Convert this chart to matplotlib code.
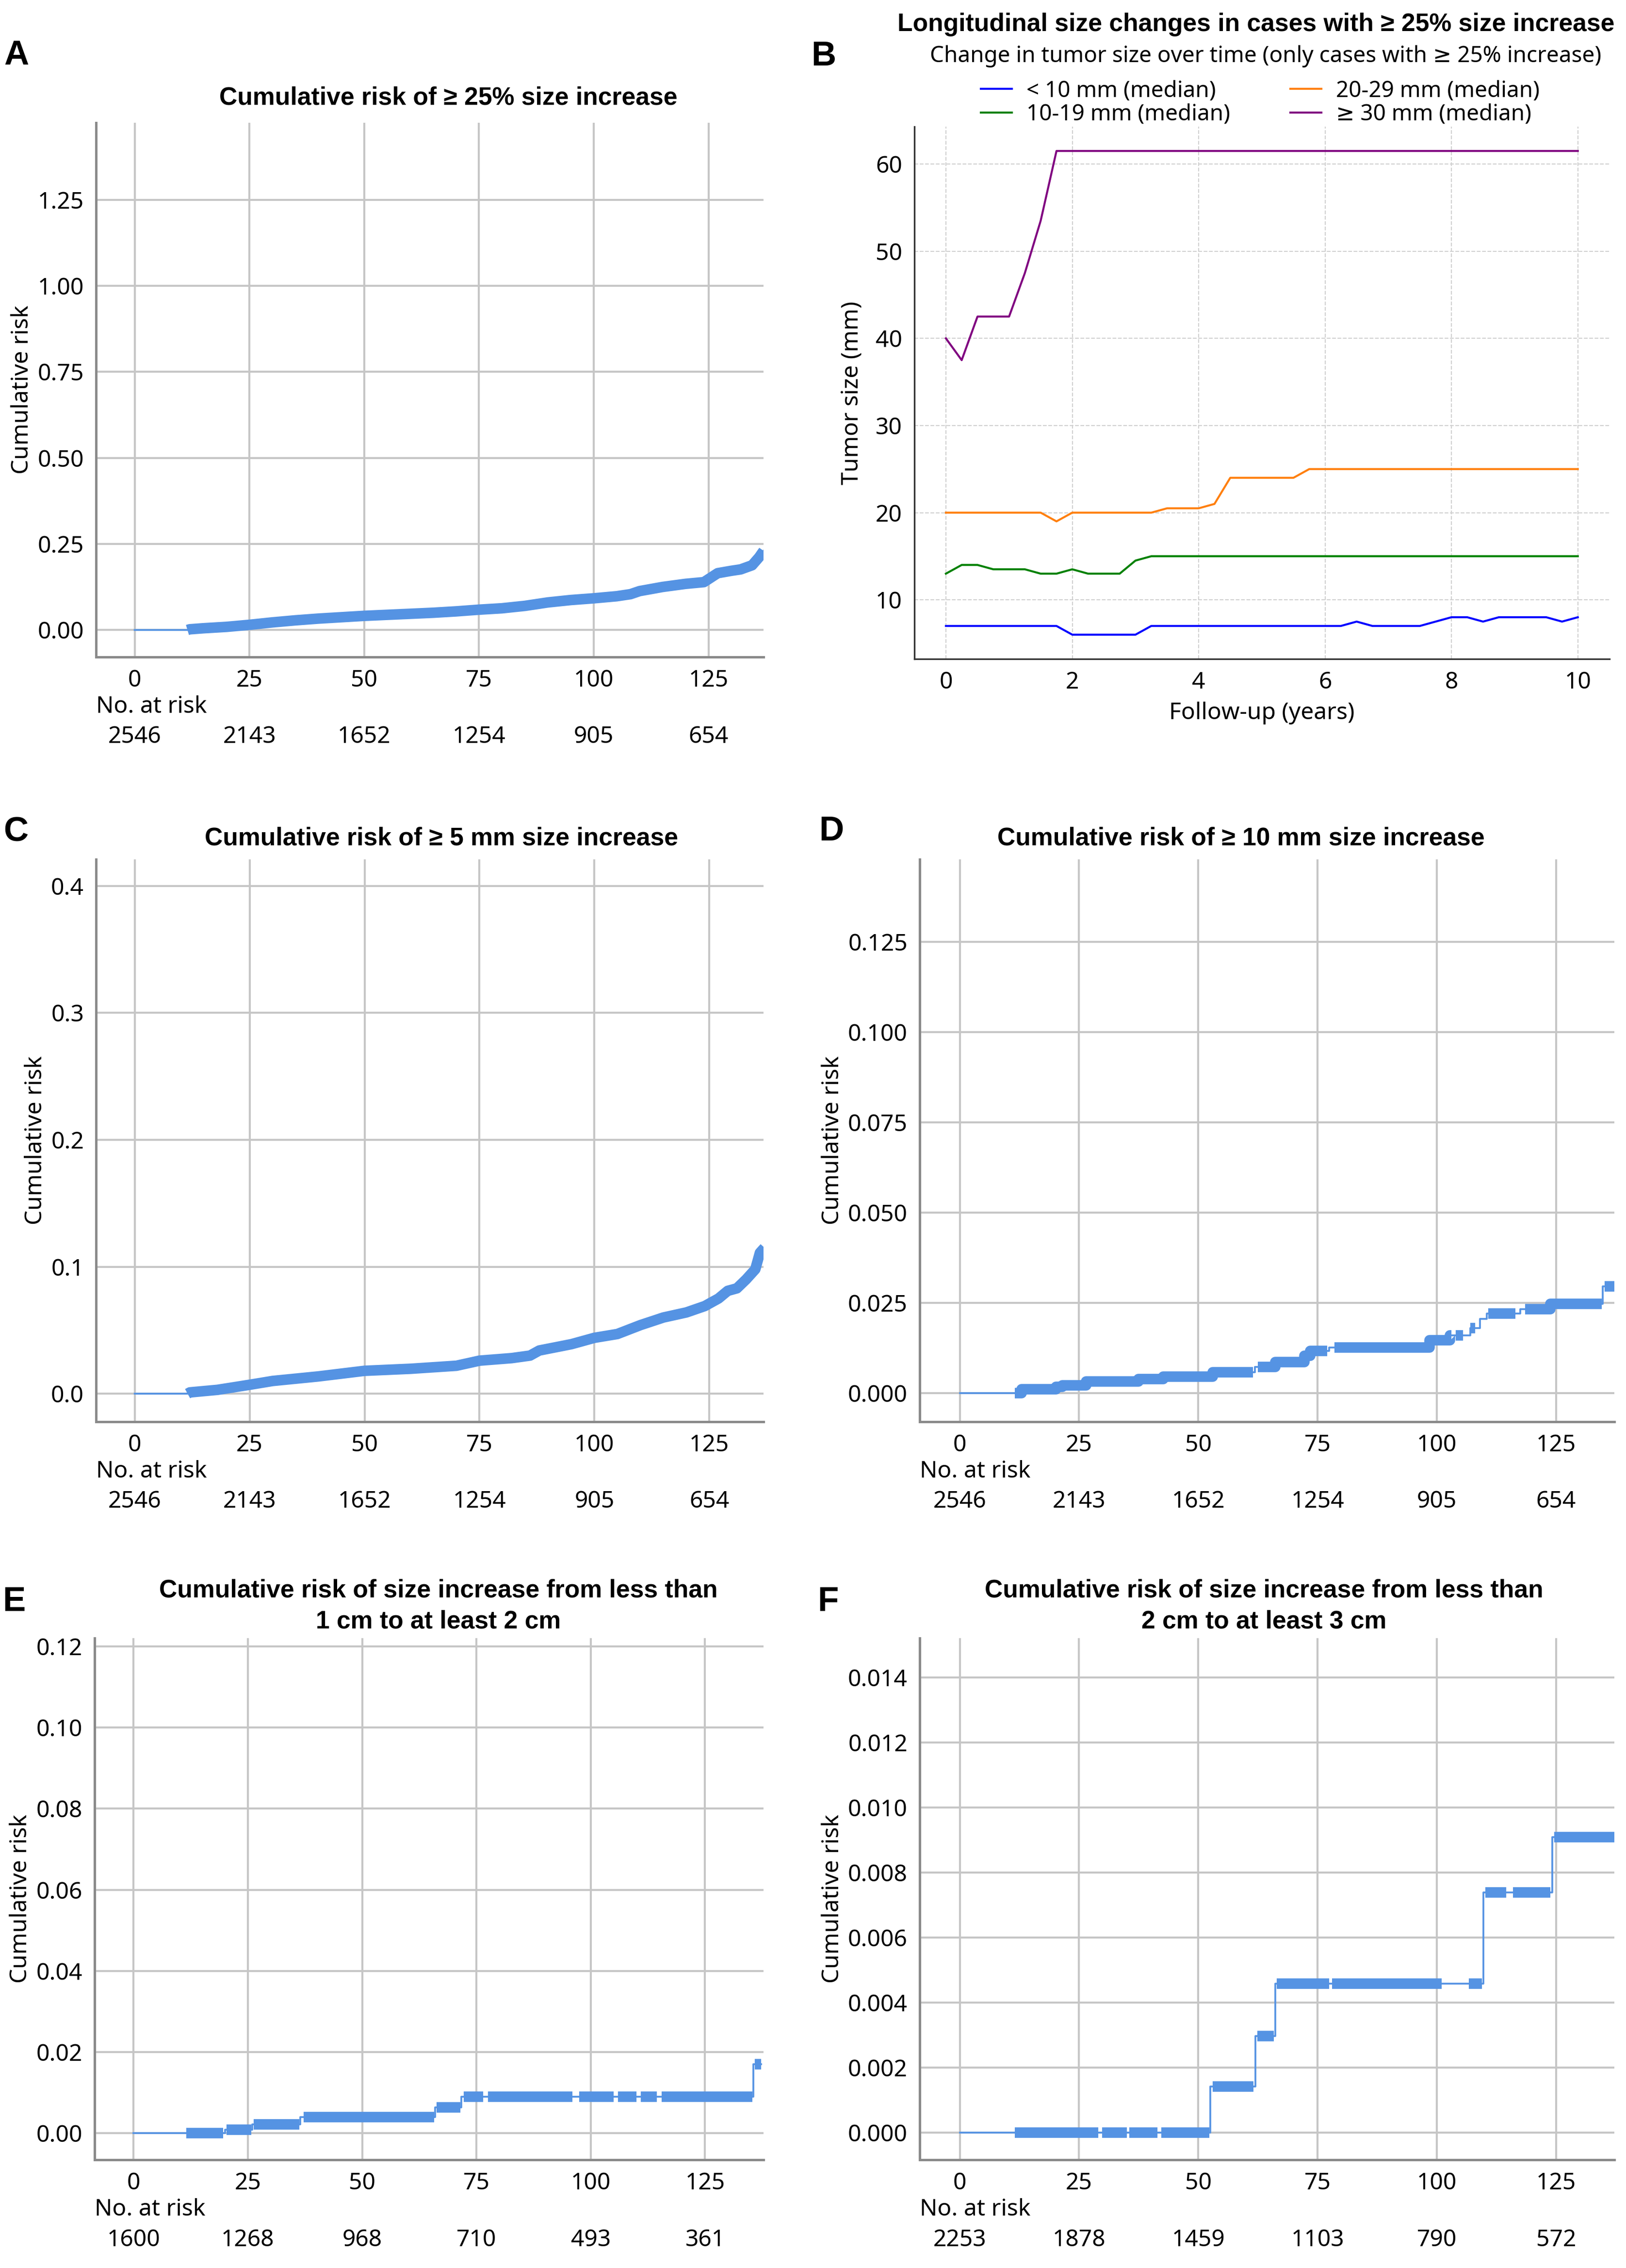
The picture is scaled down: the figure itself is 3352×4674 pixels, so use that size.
import numpy as np
import matplotlib
matplotlib.use("Agg")
import matplotlib.pyplot as plt

plt.rcParams['font.family'] = ['Noto Sans', 'DejaVu Sans']
BOLD_FAMILY = ['Liberation Sans', 'DejaVu Sans']

# ---- data ----
risk_times = [0, 25, 50, 75, 100, 125]

# A: >= 25 % size increase
a_t = [0, 11.5, 12, 15, 20, 25, 30, 35, 40, 45, 50, 55, 60, 65, 70, 75, 80, 85, 90, 95,
       100, 105, 108, 110, 115, 120, 124, 125.5, 127, 130, 132, 134.5, 136, 137]
a_r = [0, 0, 0.002, 0.005, 0.009, 0.015, 0.022, 0.028, 0.033, 0.037, 0.041, 0.044, 0.047,
       0.050, 0.054, 0.059, 0.063, 0.070, 0.080, 0.087, 0.092, 0.098, 0.104, 0.113, 0.125,
       0.134, 0.139, 0.152, 0.165, 0.172, 0.176, 0.188, 0.211, 0.230]
a_censor = [(11.5, 137)]
a_atrisk = [2546, 2143, 1652, 1254, 905, 654]

# C: >= 5 mm size increase
c_t = [0, 11.5, 12, 18, 25, 30, 40, 50, 60, 70, 75, 82, 86, 88, 95, 100, 105, 110, 115,
       120, 124, 127, 129, 131, 133, 135, 136, 137]
c_r = [0, 0, 0.001, 0.003, 0.007, 0.010, 0.0136, 0.018, 0.0196, 0.022, 0.026, 0.028, 0.030,
       0.034, 0.039, 0.044, 0.047, 0.054, 0.060, 0.064, 0.069, 0.075, 0.081, 0.083, 0.090,
       0.098, 0.111, 0.115]
c_censor = [(11.5, 137)]
c_atrisk = [2546, 2143, 1652, 1254, 905, 654]

# D: >= 10 mm size increase (step curve)
d_t = [0, 11.5, 13, 20.2, 21.5, 26.5, 37.5, 42.7, 53, 61.9, 66.1, 72.2, 73.5, 77.4, 98.5,
       102.7, 107, 109, 110.5, 117.5, 123.8, 134.8, 137.2]
d_r = [0, 0, 0.001, 0.0017, 0.0022, 0.0032, 0.0039, 0.0046, 0.0058, 0.0073, 0.0086, 0.0103,
       0.0117, 0.0126, 0.0146, 0.016, 0.018, 0.0205, 0.022, 0.0232, 0.0247, 0.0295, 0.0295]
d_censor = [(11.5, 61.5), (62.5, 77), (78.5, 103), (104, 105.5), (107, 108), (110.8, 116.5),
            (118.5, 134.6), (135.2, 137.2)]
d_atrisk = [2546, 2143, 1652, 1254, 905, 654]

# E: < 1 cm to >= 2 cm (step curve)
e_t = [0, 20, 26, 36.5, 66, 71.7, 135.6, 137.3]
e_r = [0, 0.0008, 0.0021, 0.0039, 0.0063, 0.009, 0.017, 0.017]
e_censor = [(11.5, 19.6), (20.3, 25.8), (26.3, 36.3), (37.2, 65.8), (66.3, 71.5), (72.2, 76.5),
            (77.5, 96), (97.5, 105), (106, 110), (111, 114.5), (115.5, 135.4), (135.9, 137.3)]
e_atrisk = [1600, 1268, 968, 710, 493, 361]

# F: < 2 cm to >= 3 cm (step curve)
f_t = [0, 52.5, 62, 66.1, 109.8, 124.2, 137.2]
f_r = [0, 0.00143, 0.00297, 0.00459, 0.00739, 0.0091, 0.0091]
f_censor = [(11.5, 29), (29.8, 35), (35.5, 41.4), (42.2, 52.3), (53, 61.6), (62.4, 65.8),
            (66.4, 77.4), (78, 101), (106.7, 109.5), (110.2, 114.5), (116, 123.8), (124.6, 137.2)]
f_atrisk = [2253, 1878, 1459, 1103, 790, 572]

# B: median tumour size over follow-up (years)
b_lt10_t = [0, 1.75, 2.0, 3.0, 3.25, 6.25, 6.5, 6.75, 7.5, 7.75, 8.0, 8.25, 8.5, 8.75, 9.5, 9.75, 10]
b_lt10_v = [7, 7, 6, 6, 7, 7, 7.5, 7, 7, 7.5, 8, 8, 7.5, 8, 8, 7.5, 8]
b_10_19_t = [0, 0.25, 0.5, 0.75, 1.25, 1.5, 1.75, 2.0, 2.25, 2.75, 3.0, 3.25, 10]
b_10_19_v = [13, 14, 14, 13.5, 13.5, 13, 13, 13.5, 13, 13, 14.5, 15, 15]
b_20_29_t = [0, 1.5, 1.75, 2.0, 3.25, 3.5, 4.0, 4.25, 4.5, 5.5, 5.75, 10]
b_20_29_v = [20, 20, 19, 20, 20, 20.5, 20.5, 21, 24, 24, 25, 25]
b_ge30_t = [0, 0.25, 0.5, 1.0, 1.25, 1.5, 1.75, 10]
b_ge30_v = [40, 37.5, 42.5, 42.5, 47.5, 53.5, 61.5, 61.5]

KM_BLUE = '#5593e3'
TICK_FS = 11.5

fig = plt.figure(figsize=(3352 / 300, 4674 / 300), dpi=300)
fig.patch.set_facecolor('white')


def step_level(t, r, x):
  i = np.searchsorted(t, x, side='right') - 1
  return r[max(i, 0)]


def km_panel(rect, xlim, ylim, yticks, ndec, t, r, censor, steps, at_risk):
  ax = fig.add_axes(rect)
  t = np.asarray(t, float)
  r = np.asarray(r, float)
  ds = 'steps-post' if steps else 'default'

  ax.plot(t, r, color=KM_BLUE, lw=0.9, drawstyle=ds, zorder=3)

  # dense censoring marks drawn as a band along the curve
  for a, b in censor:
    if steps:
      inside = (t > a) & (t < b)
      xs = np.concatenate([[a], t[inside], [b]])
      lv = step_level(t, r, a)
      ys = np.concatenate([[lv], r[inside], [r[inside][-1] if inside.any() else lv]])
    else:
      inside = (t >= a) & (t <= b)
      xs, ys = t[inside], r[inside]
    ax.plot(xs, ys, color=KM_BLUE, lw=5.2, drawstyle=ds, solid_capstyle='butt', zorder=3)

  ax.set_xlim(*xlim)
  ax.set_ylim(*ylim)
  ax.set_xticks(risk_times)
  ax.set_yticks(yticks)
  ax.set_yticklabels([f'{v:.{ndec}f}' for v in yticks])
  ax.set_axisbelow(True)
  ax.grid(True, color='#c6c6c6', lw=1.0)
  for s in ['top', 'right']:
    ax.spines[s].set_visible(False)
  for s in ['left', 'bottom']:
    ax.spines[s].set_color('#8a8a8a')
    ax.spines[s].set_linewidth(1.2)
  ax.tick_params(length=0, labelsize=TICK_FS, pad=6)
  ax.set_ylabel('Cumulative risk', fontsize=TICK_FS, labelpad=2)

  ax.annotate('No. at risk', xy=(xlim[0], 0), xycoords=('data', 'axes fraction'),
              xytext=(0, -24.7), textcoords='offset points', ha='left', va='center',
              fontsize=TICK_FS, annotation_clip=False)
  for x, n in zip(risk_times, at_risk):
    ax.annotate(str(n), xy=(x, 0), xycoords=('data', 'axes fraction'),
                xytext=(0, -39.6), textcoords='offset points', ha='center', va='center',
                fontsize=TICK_FS, annotation_clip=False)
  return ax


km_panel([0.0591, 0.7104, 0.4105, 0.2355], (-8.4, 137), (-0.078, 1.474),
         [0, 0.25, 0.5, 0.75, 1.0, 1.25], 2, a_t, a_r, a_censor, False, a_atrisk)
km_panel([0.0591, 0.3732, 0.4105, 0.2479], (-8.4, 136.8), (-0.022, 0.421),
         [0, 0.1, 0.2, 0.3, 0.4], 1, c_t, c_r, c_censor, False, c_atrisk)
km_panel([0.5656, 0.3732, 0.4272, 0.2479], (-8.4, 137.2), (-0.0079, 0.1478),
         [0, 0.025, 0.05, 0.075, 0.1, 0.125], 3, d_t, d_r, d_censor, True, d_atrisk)
km_panel([0.0582, 0.0477, 0.4114, 0.2301], (-8.5, 137.8), (-0.0066, 0.1221),
         [0, 0.02, 0.04, 0.06, 0.08, 0.10, 0.12], 2, e_t, e_r, e_censor, True, e_atrisk)
km_panel([0.5656, 0.0477, 0.4272, 0.2301], (-8.4, 137.2), (-0.00083, 0.01522),
         [0, 0.002, 0.004, 0.006, 0.008, 0.010, 0.012, 0.014], 3, f_t, f_r, f_censor, True, f_atrisk)

# ---- panel B ----
axb = fig.add_axes([0.5623, 0.7095, 0.4275, 0.2346])
axb.plot(b_lt10_t, b_lt10_v, color='#0000ff', lw=1.0, label='< 10 mm (median)')
axb.plot(b_10_19_t, b_10_19_v, color='#008000', lw=1.0, label='10-19 mm (median)')
axb.plot(b_20_29_t, b_20_29_v, color='#ff7f0e', lw=1.0, label='20-29 mm (median)')
axb.plot(b_ge30_t, b_ge30_v, color='#800080', lw=1.0, label='\u2265 30 mm (median)')
axb.set_xticks([0, 2, 4, 6, 8, 10])
axb.set_yticks([10, 20, 30, 40, 50, 60])
axb.set_axisbelow(True)
axb.grid(True, ls='--', lw=0.5, color='#d0d0d0')
for s in ['top', 'right']:
  axb.spines[s].set_visible(False)
for s in ['left', 'bottom']:
  axb.spines[s].set_color('#333333')
  axb.spines[s].set_linewidth(0.8)
axb.tick_params(length=0, labelsize=TICK_FS, pad=6)
axb.set_xlabel('Follow-up (years)', fontsize=TICK_FS, labelpad=4)
axb.set_ylabel('Tumor size (mm)', fontsize=TICK_FS, labelpad=6)
axb.legend(loc='upper left', bbox_to_anchor=(0.6032, 0.9648), bbox_transform=fig.transFigure,
           ncol=2, frameon=False, fontsize=11, handlelength=1.4, handletextpad=0.65,
           columnspacing=2.7, labelspacing=0.05, borderpad=0, borderaxespad=0)

# ---- titles and panel letters ----
titles = [
  (0.2757, 0.9568, 'Cumulative risk of \u2265 25% size increase'),
  (0.2715, 0.6303, 'Cumulative risk of \u2265 5 mm size increase'),
  (0.7631, 0.6303, 'Cumulative risk of \u2265 10 mm size increase'),
  (0.2697, 0.2918, 'Cumulative risk of size increase from less than\n1 cm to at least 2 cm'),
  (0.7774, 0.2918, 'Cumulative risk of size increase from less than\n2 cm to at least 3 cm'),
  (0.7724, 0.9891, 'Longitudinal size changes in cases with \u2265 25% size increase'),
]
for x, y, s in titles:
  fig.text(x, y, s, ha='center', va='center', fontsize=12.4, fontweight='bold',
           family=BOLD_FAMILY, linespacing=1.4)
fig.text(0.7783, 0.9752, 'Change in tumor size over time (only cases with \u2265 25% increase)',
         ha='center', va='center', fontsize=11)

letters = [('A', 0.0101, 0.9754), ('B', 0.5066, 0.9750), ('C', 0.0098, 0.6330),
           ('D', 0.5113, 0.6333), ('E', 0.0087, 0.2935), ('F', 0.5093, 0.2935)]
for s, x, y in letters:
  fig.text(x, y, s, ha='center', va='center', fontsize=17, fontweight='bold', family=BOLD_FAMILY)

fig.savefig('out.png', dpi=300, facecolor='white')
